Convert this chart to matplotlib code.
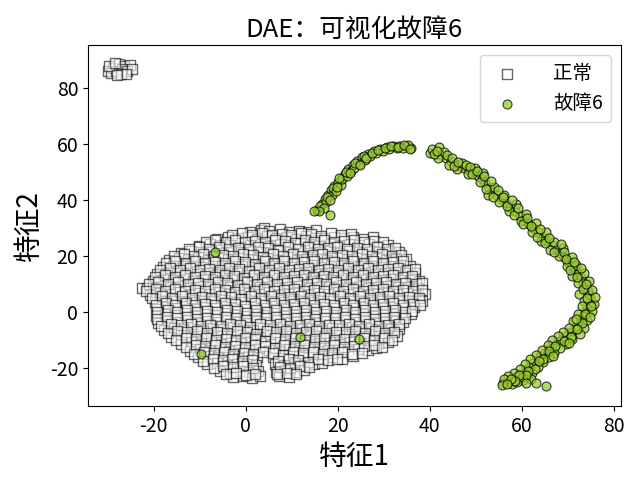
import matplotlib
matplotlib.use("Agg")
import matplotlib.pyplot as plt

plt.rcParams['font.family'] = ['Noto Sans CJK SC', 'DejaVu Sans']
plt.rcParams['axes.unicode_minus'] = False

# 正常 样本 (按行读取)
normal_x = [
    1.0, 3.2, 4.0, 5.1, 7.4, 9.3, 11.6, 13.5, 15.2,
    -6.2, -3.9, -1.8, 0.4, 2.5, 4.7, 6.6, 8.9, 10.8, 13.1, 15.0, 17.2, 19.1, 21.4, 23.3, 25.5, 27.6,
    -10.1, -7.8, -5.7, -3.5, -1.2, 0.9, 3.1, 5.3, 7.4, 9.6, 11.7, 13.9, 16.0, 18.2, 20.4, 22.5, 24.6, 26.8, 28.9, 31.0,
    -14.0, -11.9, -9.7, -7.6, -5.4, -3.3, -1.1, 1.0, 3.2, 5.3, 7.5, 9.6, 11.8, 13.9, 16.1, 18.2, 20.4, 22.5, 24.7, 26.8, 29.0, 31.1, 33.3,
    -16.8, -14.6, -12.5, -10.3, -8.2, -6.0, -3.9, -1.7, 0.4, 2.6, 4.7, 6.9, 9.0, 11.2, 13.3, 15.5, 17.6, 19.8, 21.9, 24.1, 26.2, 28.4, 30.5, 32.7, 34.8,
    -18.0, -15.8, -13.7, -11.5, -9.4, -7.2, -5.1, -2.9, -0.8, 1.4, 3.5, 5.7, 7.8, 10.0, 12.1, 14.3, 16.4, 18.6, 20.7, 22.9, 25.0, 27.2, 29.3, 31.5, 33.6, 35.7,
    -19.2, -17.0, -14.9, -12.7, -10.6, -8.4, -6.3, -4.1, -2.0, 0.2, 2.3, 4.5, 6.6, 8.8, 10.9, 13.1, 15.2, 17.4, 19.5, 21.7, 23.8, 26.0, 28.1, 30.3, 32.4, 34.6, 36.7,
    -20.1, -18.0, -15.8, -13.7, -11.5, -9.4, -7.2, -5.1, -2.9, -0.8, 1.4, 3.5, 5.7, 7.8, 10.0, 12.1, 14.3, 16.4, 18.6, 20.7, 22.9, 25.0, 27.2, 29.3, 31.5, 33.6, 35.8, 37.6,
    -22.6, -21.4, -20.2, -18.5, -16.4, -14.2, -12.1, -9.9, -7.8, -5.6, -3.5, -1.3, 0.8, 3.0, 5.1, 7.3, 9.4, 11.6, 13.7, 15.9, 18.0, 20.2, 22.3, 24.5, 26.6, 28.8, 30.9, 33.1, 35.2, 37.4,
    -20.8, -18.7, -16.5, -14.4, -12.2, -10.1, -7.9, -5.8, -3.6, -1.5, 0.7, 2.8, 5.0, 7.1, 9.3, 11.4, 13.6, 15.7, 17.9, 20.0, 22.2, 24.3, 26.5, 28.6, 30.8, 32.9, 35.1, 37.2, 39.0,
    -19.8, -17.6, -15.5, -13.3, -11.2, -9.0, -6.9, -4.7, -2.6, -0.4, 1.7, 3.9, 6.0, 8.2, 10.3, 12.5, 14.6, 16.8, 18.9, 21.1, 23.2, 25.4, 27.5, 29.7, 31.8, 34.0, 36.1, 38.3,
    -19.4, -17.2, -15.1, -12.9, -10.8, -8.6, -6.5, -4.3, -2.2, 0.0, 2.1, 4.3, 6.4, 8.6, 10.7, 12.9, 15.0, 17.2, 19.3, 21.5, 23.6, 25.8, 27.9, 30.1, 32.2, 34.4, 36.5,
    -19.6, -17.5, -15.3, -13.2, -11.0, -8.9, -6.7, -4.6, -2.4, -0.3, 1.9, 4.0, 6.2, 8.3, 10.5, 12.6, 14.8, 16.9, 19.1, 21.2, 23.4, 25.5, 27.7, 29.8, 32.0, 34.1, 35.8,
    -19.0, -16.9, -14.7, -12.6, -10.4, -8.3, -6.1, -4.0, -1.8, 0.3, 2.5, 4.6, 6.8, 8.9, 11.1, 13.2, 15.4, 17.5, 19.7, 21.8, 24.0, 26.1, 28.3, 30.4, 32.6, 34.2,
    -17.8, -15.7, -13.5, -11.4, -9.2, -7.1, -4.9, -2.8, -0.6, 1.5, 3.7, 5.8, 8.0, 10.1, 12.3, 14.4, 16.6, 18.7, 20.9, 23.0, 25.2, 27.3, 29.5, 31.6, 33.4,
    -16.2, -14.1, -11.9, -9.8, -7.6, -5.5, -3.3, -1.2, 1.0, 3.1, 5.3, 7.4, 9.6, 11.7, 13.9, 16.0, 18.2, 20.3, 22.5, 24.6, 26.8, 28.9, 31.1, 32.8,
    -14.0, -11.8, -9.7, -7.5, -5.4, -3.2, -1.1, 1.1, 3.2, 5.4, 7.5, 9.7, 11.8, 14.0, 16.1, 18.3, 20.4, 22.6, 24.7, 26.9, 29.0, 30.9,
    -12.2, -10.0, -7.9, -5.7, -3.6, -1.4, 0.7, 2.9, 5.0, 7.2, 9.3, 11.5, 13.6, 15.8, 17.9, 20.1, 22.2, 24.4, 26.5, 28.3,
    -10.3, -8.2, -6.0, -3.9, -1.7, 0.4, 2.4, 6.0, 8.1, 10.3, 12.4, 14.6, 16.7, 18.9, 21.0, 23.2,
    -8.4, -6.3, -4.1, -2.0, 0.2, 2.2, 6.3, 8.4, 10.6, 12.7, 14.9, 16.5,
    -5.6, -3.4, -1.3, 0.8, 2.6, 6.5, 8.6, 10.8, 12.6,
    -2.8, -0.7, 1.4, 3.0, 7.2, 9.3,
    # 中间行
    -2.9, -0.8, 1.3, 3.5, 5.6, 7.8, 9.9, 12.0, 14.2, 16.3, 18.5, 20.6, 22.8,
    -8.7, -6.6, -4.4, -2.3, -0.1, 2.0, 4.2, 6.3, 8.5, 10.6, 12.8, 14.9, 17.1, 19.2, 21.4, 23.5, 25.7, 27.8, 29.9,
    -12.3, -10.2, -8.0, -5.9, -3.7, -1.6, 0.6, 2.7, 4.9, 7.0, 9.2, 11.3, 13.5, 15.6, 17.8, 19.9, 22.1, 24.2, 26.4, 28.5, 30.7, 32.4,
    -15.6, -13.5, -11.3, -9.2, -7.0, -4.9, -2.7, -0.6, 1.6, 3.7, 5.9, 8.0, 10.2, 12.3, 14.5, 16.6, 18.8, 20.9, 23.1, 25.2, 27.4, 29.5, 31.7, 33.8,
    -17.4, -15.3, -13.1, -11.0, -8.8, -6.7, -4.5, -2.4, -0.2, 1.9, 4.1, 6.2, 8.4, 10.5, 12.7, 14.8, 17.0, 19.1, 21.3, 23.4, 25.6, 27.7, 29.9, 32.0, 34.2,
    -18.6, -16.5, -14.3, -12.2, -10.0, -7.9, -5.7, -3.6, -1.4, 0.7, 2.9, 5.0, 7.2, 9.3, 11.5, 13.6, 15.8, 17.9, 20.1, 22.2, 24.4, 26.5, 28.7, 30.8, 33.0, 35.1, 36.8,
    -19.7, -17.5, -15.4, -13.2, -11.1, -8.9, -6.8, -4.6, -2.5, -0.3, 1.8, 4.0, 6.1, 8.3, 10.4, 12.6, 14.7, 16.9, 19.0, 21.2, 23.3, 25.5, 27.6, 29.8, 31.9, 34.1, 36.2,
    -21.0, -19.0, -16.9, -14.7, -12.6, -10.4, -8.3, -6.1, -4.0, -1.8, 0.3, 2.5, 4.6, 6.8, 8.9, 11.1, 13.2, 15.4, 17.5, 19.7, 21.8, 24.0, 26.1, 28.3, 30.4, 32.6, 34.7, 36.9, 38.2,
    -21.8, -19.6, -17.5, -15.3, -13.2, -11.0, -8.9, -6.7, -4.6, -2.4, -0.3, 1.9, 4.0, 6.2, 8.3, 10.5, 12.6, 14.8, 16.9, 19.1, 21.2, 23.4, 25.5, 27.7, 29.8, 32.0, 34.1, 36.3, 38.4,
    -20.4, -18.2, -16.1, -13.9, -11.8, -9.6, -7.5, -5.3, -3.2, -1.0, 1.1, 3.3, 5.4, 7.6, 9.7, 11.9, 14.0, 16.2, 18.3, 20.5, 22.6, 24.8, 26.9, 29.1, 31.2, 33.4, 35.5, 37.7,
    -19.6, -17.4, -15.3, -13.1, -11.0, -8.8, -6.7, -4.5, -2.4, -0.2, 1.9, 4.1, 6.2, 8.4, 10.5, 12.7, 14.8, 17.0, 19.1, 21.3, 23.4, 25.6, 27.7, 29.9, 32.0, 34.2, 36.3, 37.9,
    -19.2, -17.0, -14.9, -12.7, -10.6, -8.4, -6.3, -4.1, -2.0, 0.2, 2.3, 4.5, 6.6, 8.8, 10.9, 13.1, 15.2, 17.4, 19.5, 21.7, 23.8, 26.0, 28.1, 30.3, 32.4, 34.6, 36.2,
    -19.3, -17.1, -15.0, -12.8, -10.7, -8.5, -6.4, -4.2, -2.1, 0.1, 2.2, 4.4, 6.5, 8.7, 10.8, 13.0, 15.1, 17.3, 19.4, 21.6, 23.7, 25.9, 28.0, 30.2, 32.3, 34.5,
    -18.4, -16.3, -14.1, -12.0, -9.8, -7.7, -5.5, -3.4, -1.2, 0.9, 3.1, 5.2, 7.4, 9.5, 11.7, 13.8, 16.0, 18.1, 20.3, 22.4, 24.6, 26.7, 28.9, 31.0, 33.2,
    -17.0, -14.9, -12.7, -10.6, -8.4, -6.3, -4.1, -2.0, 0.2, 2.3, 4.5, 6.6, 8.8, 10.9, 13.1, 15.2, 17.4, 19.5, 21.7, 23.8, 26.0, 28.1, 30.3, 32.3,
    -15.1, -13.0, -10.8, -8.7, -6.5, -4.4, -2.2, -0.1, 2.1, 4.2, 6.4, 8.5, 10.7, 12.8, 15.0, 17.1, 19.3, 21.4, 23.6, 25.7, 27.9, 30.0, 31.8,
    -13.1, -10.9, -8.8, -6.6, -4.5, -2.3, -0.2, 2.0, 4.1, 6.3, 8.4, 10.6, 12.7, 14.9, 17.0, 19.2, 21.3, 23.5, 25.6, 27.8, 29.6,
    -11.3, -9.1, -7.0, -4.8, -2.7, -0.5, 1.6, 3.8, 5.9, 8.1, 10.2, 12.4, 14.5, 16.7, 18.8, 21.0, 23.1, 25.3,
    -9.3, -7.2, -5.0, -2.9, -0.7, 1.4, 7.1, 9.3, 11.4, 13.6, 15.7, 17.9, 19.8,
    -7.0, -4.9, -2.7, -0.6, 1.6, 7.4, 9.5, 11.7, 13.8,
    -4.3, -2.1, 0.0, 2.1, 6.8, 8.9, 11.0,
    # 左上角小簇
    -30.0, -28.8, -27.6, -26.4, -25.2, -29.4, -28.2, -27.0, -25.8, -24.8, -29.8, -28.4, -27.2, -26.0, -28.0,
]
normal_y = [
    28.6, 29.4, 30.2, 28.9, 29.8, 28.5, 29.1, 28.7, 29.3,
    26.1, 27.0, 26.4, 26.9, 26.0, 27.2, 26.5, 26.8, 26.2, 27.1, 26.6, 26.3, 27.0, 26.5, 26.9, 26.2, 26.7,
    23.6, 24.3, 23.9, 24.6, 23.4, 24.1, 24.5, 23.7, 24.2, 23.8, 24.7, 23.5, 24.0, 24.4, 23.6, 24.2, 23.9, 24.5, 23.7, 24.0,
    21.2, 21.9, 21.4, 22.0, 21.1, 21.7, 21.3, 22.1, 21.5, 21.0, 21.8, 21.4, 22.0, 21.2, 21.6, 21.9, 21.1, 21.7, 21.4, 22.0, 21.3, 21.8, 21.5,
    18.7, 19.4, 18.9, 19.5, 18.6, 19.2, 18.8, 19.6, 19.0, 18.5, 19.3, 18.9, 19.5, 18.7, 19.1, 19.4, 18.6, 19.2, 18.9, 19.6, 18.8, 19.3, 18.7, 19.1, 18.9,
    16.2, 16.9, 16.4, 17.0, 16.1, 16.7, 16.3, 17.1, 16.5, 16.0, 16.8, 16.4, 17.0, 16.2, 16.6, 16.9, 16.1, 16.7, 16.4, 17.1, 16.3, 16.8, 16.2, 16.6, 16.9, 16.4,
    13.6, 14.3, 13.8, 14.4, 13.5, 14.1, 13.7, 14.5, 13.9, 13.4, 14.2, 13.8, 14.4, 13.6, 14.0, 14.3, 13.5, 14.1, 13.8, 14.5, 13.7, 14.2, 13.6, 14.0, 14.3, 13.8, 14.1,
    11.2, 11.8, 11.4, 12.0, 11.1, 11.7, 11.3, 12.1, 11.5, 11.0, 11.8, 11.4, 12.0, 11.2, 11.6, 11.9, 11.1, 11.7, 11.4, 12.1, 11.3, 11.8, 11.2, 11.6, 11.9, 11.4, 11.7, 11.2,
    8.7, 8.7, 8.7, 9.3, 8.8, 9.4, 8.6, 9.2, 8.8, 9.5, 8.9, 8.4, 9.2, 8.8, 9.4, 8.6, 9.0, 9.3, 8.5, 9.1, 8.8, 9.5, 8.7, 9.2, 8.6, 9.0, 9.3, 8.8, 9.1, 8.6,
    6.2, 6.9, 6.4, 7.0, 6.1, 6.7, 6.3, 7.1, 6.5, 6.0, 6.8, 6.4, 7.0, 6.2, 6.6, 6.9, 6.1, 6.7, 6.4, 7.1, 6.3, 6.8, 6.2, 6.6, 6.9, 6.4, 6.7, 6.2, 6.5,
    3.7, 4.4, 3.9, 4.5, 3.6, 4.2, 3.8, 4.6, 4.0, 3.5, 4.3, 3.9, 4.5, 3.7, 4.1, 4.4, 3.6, 4.2, 3.9, 4.6, 3.8, 4.3, 3.7, 4.1, 4.4, 3.9, 4.2, 3.8,
    1.2, 1.9, 1.4, 2.0, 1.1, 1.7, 1.3, 2.1, 1.5, 1.0, 1.8, 1.4, 2.0, 1.2, 1.6, 1.9, 1.1, 1.7, 1.4, 2.1, 1.3, 1.8, 1.2, 1.6, 1.9, 1.4, 1.7,
    -1.3, -0.6, -1.1, -0.5, -1.4, -0.8, -1.2, -0.4, -1.0, -1.5, -0.7, -1.1, -0.5, -1.3, -0.9, -0.6, -1.4, -0.8, -1.1, -0.4, -1.2, -0.7, -1.3, -0.9, -0.6, -1.1, -0.8,
    -3.8, -3.1, -3.6, -3.0, -3.9, -3.3, -3.7, -2.9, -3.5, -4.0, -3.2, -3.6, -3.0, -3.8, -3.4, -3.1, -3.9, -3.3, -3.6, -2.9, -3.7, -3.2, -3.8, -3.4, -3.1, -3.6,
    -6.3, -5.6, -6.1, -5.5, -6.4, -5.8, -6.2, -5.4, -6.0, -6.5, -5.7, -6.1, -5.5, -6.3, -5.9, -5.6, -6.4, -5.8, -6.1, -5.4, -6.2, -5.7, -6.3, -5.9, -6.0,
    -8.8, -8.1, -8.6, -8.0, -8.9, -8.3, -8.7, -7.9, -8.5, -9.0, -8.2, -8.6, -8.0, -8.8, -8.4, -8.1, -8.9, -8.3, -8.6, -7.9, -8.7, -8.2, -8.8, -8.4,
    -11.3, -10.6, -11.1, -10.5, -11.4, -10.8, -11.2, -10.4, -11.0, -11.5, -10.7, -11.1, -10.5, -11.3, -10.9, -10.6, -11.4, -10.8, -11.1, -10.4, -11.2, -10.7,
    -13.8, -13.1, -13.6, -13.0, -13.9, -13.3, -13.7, -12.9, -13.5, -14.0, -13.2, -13.6, -13.0, -13.8, -13.4, -13.1, -13.9, -13.3, -13.6, -13.0,
    -16.2, -15.6, -16.1, -15.5, -16.4, -15.8, -16.2, -15.9, -16.5, -15.7, -16.1, -15.5, -16.3, -15.9, -16.6, -15.8,
    -18.7, -18.1, -18.9, -18.3, -18.6, -19.0, -18.4, -18.8, -18.2, -18.9, -18.5, -18.1,
    -21.1, -21.6, -20.9, -21.4, -21.0, -21.5, -20.8, -21.3, -20.7,
    -23.2, -22.8, -23.5, -23.0, -22.9, -23.3,
    27.5, 28.1, 27.7, 28.3, 27.4, 28.0, 27.6, 28.2, 27.8, 27.3, 28.1, 27.6, 27.9,
    25.0, 25.6, 25.2, 25.8, 24.9, 25.5, 25.1, 25.7, 25.3, 24.8, 25.6, 25.2, 25.8, 25.0, 25.4, 25.7, 24.9, 25.5, 25.2,
    22.5, 23.1, 22.7, 23.3, 22.4, 23.0, 22.6, 23.2, 22.8, 22.3, 23.1, 22.7, 23.3, 22.5, 22.9, 23.2, 22.4, 23.0, 22.7, 23.3, 22.6, 22.9,
    20.0, 20.6, 20.2, 20.8, 19.9, 20.5, 20.1, 20.7, 20.3, 19.8, 20.6, 20.2, 20.8, 20.0, 20.4, 20.7, 19.9, 20.5, 20.2, 20.8, 20.1, 20.6, 20.0, 20.4,
    17.5, 18.1, 17.7, 18.3, 17.4, 18.0, 17.6, 18.2, 17.8, 17.3, 18.1, 17.7, 18.3, 17.5, 17.9, 18.2, 17.4, 18.0, 17.7, 18.3, 17.6, 18.1, 17.5, 17.9, 18.2,
    15.0, 15.6, 15.2, 15.8, 14.9, 15.5, 15.1, 15.7, 15.3, 14.8, 15.6, 15.2, 15.8, 15.0, 15.4, 15.7, 14.9, 15.5, 15.2, 15.8, 15.1, 15.6, 15.0, 15.4, 15.7, 15.2, 15.5,
    12.5, 13.1, 12.7, 13.3, 12.4, 13.0, 12.6, 13.2, 12.8, 12.3, 13.1, 12.7, 13.3, 12.5, 12.9, 13.2, 12.4, 13.0, 12.7, 13.3, 12.6, 13.1, 12.5, 12.9, 13.2, 12.7, 13.0,
    10.0, 10.6, 10.2, 10.8, 9.9, 10.5, 10.1, 10.7, 10.3, 9.8, 10.6, 10.2, 10.8, 10.0, 10.4, 10.7, 9.9, 10.5, 10.2, 10.8, 10.1, 10.6, 10.0, 10.4, 10.7, 10.2, 10.5, 10.0, 10.3,
    7.5, 8.1, 7.7, 8.3, 7.4, 8.0, 7.6, 8.2, 7.8, 7.3, 8.1, 7.7, 8.3, 7.5, 7.9, 8.2, 7.4, 8.0, 7.7, 8.3, 7.6, 8.1, 7.5, 7.9, 8.2, 7.7, 8.0, 7.5, 7.8,
    5.0, 5.6, 5.2, 5.8, 4.9, 5.5, 5.1, 5.7, 5.3, 4.8, 5.6, 5.2, 5.8, 5.0, 5.4, 5.7, 4.9, 5.5, 5.2, 5.8, 5.1, 5.6, 5.0, 5.4, 5.7, 5.2, 5.5, 5.0,
    2.5, 3.1, 2.7, 3.3, 2.4, 3.0, 2.6, 3.2, 2.8, 2.3, 3.1, 2.7, 3.3, 2.5, 2.9, 3.2, 2.4, 3.0, 2.7, 3.3, 2.6, 3.1, 2.5, 2.9, 3.2, 2.7, 3.0, 2.6,
    0.0, 0.6, 0.2, 0.8, -0.1, 0.5, 0.1, 0.7, 0.3, -0.2, 0.6, 0.2, 0.8, 0.0, 0.4, 0.7, -0.1, 0.5, 0.2, 0.8, 0.1, 0.6, 0.0, 0.4, 0.7, 0.2, 0.5,
    -2.5, -1.9, -2.3, -1.7, -2.6, -2.0, -2.4, -1.8, -2.2, -2.7, -1.9, -2.3, -1.7, -2.5, -2.1, -1.8, -2.6, -2.0, -2.3, -1.7, -2.4, -1.9, -2.5, -2.1, -1.8, -2.3,
    -5.0, -4.4, -4.8, -4.2, -5.1, -4.5, -4.9, -4.3, -4.7, -5.2, -4.4, -4.8, -4.2, -5.0, -4.6, -4.3, -5.1, -4.5, -4.8, -4.2, -4.9, -4.4, -5.0, -4.6, -4.3,
    -7.5, -6.9, -7.3, -6.7, -7.6, -7.0, -7.4, -6.8, -7.2, -7.7, -6.9, -7.3, -6.7, -7.5, -7.1, -6.8, -7.6, -7.0, -7.3, -6.7, -7.4, -6.9, -7.5, -7.1,
    -10.0, -9.4, -9.8, -9.2, -10.1, -9.5, -9.9, -9.3, -9.7, -10.2, -9.4, -9.8, -9.2, -10.0, -9.6, -9.3, -10.1, -9.5, -9.8, -9.2, -9.9, -9.4, -10.0,
    -12.5, -11.9, -12.3, -11.7, -12.6, -12.0, -12.4, -11.8, -12.2, -12.7, -11.9, -12.3, -11.7, -12.5, -12.1, -11.8, -12.6, -12.0, -12.3, -11.7, -12.4,
    -15.0, -14.4, -14.8, -14.2, -15.1, -14.5, -14.9, -14.3, -14.7, -15.2, -14.4, -14.8, -14.2, -15.0, -14.6, -14.3, -15.1, -14.5,
    -17.5, -16.9, -17.3, -16.7, -17.6, -17.0, -17.4, -16.8, -17.2, -17.7, -16.9, -17.3, -16.7,
    -20.0, -19.4, -19.8, -19.2, -20.1, -19.5, -19.9, -19.3, -19.7,
    -22.2, -21.8, -22.4, -22.0, -22.3, -21.7, -22.1,
    86.3, 87.4, 88.5, 87.8, 88.2, 85.4, 86.0, 86.7, 86.2, 87.0, 87.9, 88.9, 85.2, 85.0, 84.8,
]

# 故障6 样本
fault_x = [
    # 左侧弧
    15.5, 16.5, 17.2, 17.8, 18.5, 19.2, 20.0, 20.8, 21.5, 22.3, 23.2, 24.2, 25.3, 26.5, 27.8, 29.2, 30.6, 32.0, 33.4, 34.8, 36.0,
    16.2, 17.5, 18.8, 19.0, 20.6, 21.0, 22.0, 22.8, 23.6, 24.6, 25.8, 27.0, 28.4, 29.8, 31.2, 32.8, 34.2, 35.3, 17.0, 19.6,
    16.0, 17.6, 18.2, 19.8, 20.2, 21.8, 22.6, 23.8, 24.8, 25.6, 26.2, 27.4, 28.8, 30.2, 31.6, 33.0, 34.4, 35.6,
    18.3, 14.8,
    # 右侧弧
    40.0, 41.2, 42.5, 43.5, 44.5, 45.5, 46.5, 47.5, 48.5, 49.5, 50.5, 51.3, 52.0, 52.8, 53.5, 54.5, 55.5, 56.5, 57.5, 58.5,
    59.5, 60.5, 61.5, 62.5, 63.5, 64.5, 65.5, 66.5, 67.5, 68.3, 69.2, 70.0, 70.8, 71.5, 72.2, 72.8, 73.3, 73.8, 74.3, 74.6,
    74.8, 74.6, 74.2, 73.8, 73.3, 72.8, 72.2, 71.5, 70.7, 69.8, 68.8, 67.8, 66.9, 66.0, 65.0, 64.0, 63.2, 62.4, 61.6, 60.8,
    60.0, 59.0, 58.0, 57.0, 56.0,
    40.5, 42.0, 41.8, 43.0, 44.2, 45.8, 47.0, 48.2, 49.8, 51.5, 50.8, 52.6, 54.0, 55.0, 56.2, 57.2, 58.8, 59.8, 61.0, 62.2,
    63.0, 64.2, 65.2, 66.2, 67.0, 68.0, 69.0, 69.8, 70.8, 71.8, 71.0, 72.3, 73.6, 74.5, 72.5, 75.3, 73.5, 75.6, 73.0, 75.2,
    72.2, 74.2, 71.2, 73.6, 70.2, 72.6, 69.0, 71.0, 67.8, 69.6, 66.6, 68.2, 65.6, 67.0, 64.4, 65.8, 63.0, 64.6, 61.8, 63.4,
    60.6, 62.2, 59.6, 61.2, 58.2, 60.2, 57.0, 59.0, 56.2, 57.8, 55.6, 58.2, 60.2, 62.0, 63.0,
    40.8, 41.6, 43.8, 44.8, 45.2, 46.2, 47.8, 48.8, 49.2, 50.2, 51.8, 52.2, 53.2, 53.8, 54.8, 55.8, 56.8, 57.8, 58.2, 59.2,
    60.2, 61.2, 62.0, 63.2, 64.0, 65.0, 66.0, 67.0, 68.6, 69.2, 69.6, 70.4, 71.4, 72.0, 72.8, 73.2, 74.0, 74.2, 75.8, 75.0,
    73.8, 74.8, 73.0, 72.0, 71.8, 70.6, 69.2, 70.2, 67.2, 66.0, 66.8, 64.6, 63.8, 62.8, 61.4, 60.8, 59.4, 58.6, 57.6, 56.8,
    61.0,
    65.2,
    # 混入正常簇的点
    -6.7, -9.8, 11.7, 24.6,
]
fault_y = [
    36.5, 38.5, 40.5, 42.0, 43.5, 45.0, 46.5, 48.0, 49.5, 51.0, 52.5, 54.0, 55.3, 56.5, 57.5, 58.3, 58.9, 59.2, 59.3, 59.2, 58.8,
    37.8, 39.5, 41.8, 44.2, 45.4, 47.6, 48.5, 50.3, 51.4, 53.0, 54.4, 55.6, 56.9, 57.6, 58.2, 58.6, 58.6, 59.6, 37.3, 43.4,
    36.0, 41.2, 40.0, 44.8, 47.8, 50.2, 49.6, 53.4, 52.6, 55.9, 55.0, 57.0, 57.9, 58.6, 59.4, 59.0, 59.6, 58.4,
    34.6, 36.0,
    57.0, 56.5, 56.0, 55.0, 54.0, 53.0, 52.3, 51.5, 50.8, 50.0, 48.8, 47.5, 46.0, 44.5, 43.0, 41.8, 40.5, 39.0, 37.5, 36.0,
    34.5, 33.0, 31.5, 30.0, 28.5, 27.0, 25.5, 24.0, 22.5, 21.0, 19.5, 18.0, 16.5, 15.0, 13.5, 12.0, 10.5, 9.0, 7.5, 6.0,
    4.5, 3.0, 1.5, 0.0, -1.5, -3.0, -4.5, -6.0, -7.2, -8.3, -9.5, -10.7, -12.0, -13.3, -14.5, -15.7, -17.0, -18.3, -19.6, -20.8,
    -22.0, -23.0, -23.8, -24.5, -25.2,
    58.2, 59.0, 55.0, 57.3, 52.5, 51.0, 53.2, 49.5, 51.6, 49.8, 46.5, 42.0, 44.8, 39.5, 42.0, 36.0, 38.6, 32.5, 35.0, 28.6,
    31.8, 25.5, 28.5, 22.3, 25.2, 20.0, 23.0, 16.5, 19.8, 16.8, 13.0, 10.5, 13.8, 11.0, 6.5, 8.0, 4.0, 3.0, 2.0, 0.3,
    -0.8, -2.8, -3.2, -5.6, -5.8, -7.8, -7.0, -9.6, -8.6, -11.4, -10.0, -13.0, -11.8, -14.6, -13.4, -16.2, -15.2, -18.0, -16.8, -19.8,
    -18.6, -21.6, -20.5, -23.0, -21.8, -24.4, -23.0, -25.0, -23.8, -25.8, -26.0, -24.8, -23.2, -24.0, -25.4,
    56.4, 57.6, 56.2, 55.2, 52.2, 53.8, 52.4, 52.0, 49.2, 50.4, 48.5, 44.0, 46.8, 41.0, 43.8, 41.2, 37.8, 40.0, 34.8, 37.2,
    31.6, 33.6, 30.8, 27.0, 29.6, 24.8, 26.6, 21.6, 24.4, 21.4, 18.8, 15.2, 17.8, 12.4, 15.6, 8.2, 10.2, 5.0, 5.4, 2.0,
    -0.8, -1.6, -4.0, -6.0, -2.4, -8.8, -10.2, -11.0, -12.2, -14.0, -15.6, -16.6, -17.4, -20.2, -21.0, -22.4, -22.4, -24.6, -24.0, -25.8,
    -25.2,
    -26.6,
    21.4, -15.0, -8.9, -9.6,
]

fig, ax = plt.subplots(figsize=(6.4, 4.8), dpi=100)
ax.scatter(normal_x, normal_y, marker='s', s=50, c='white', edgecolors='black',
           linewidths=1.0, alpha=0.6, label='正常')
ax.scatter(fault_x, fault_y, marker='o', s=42, c='yellowgreen', edgecolors='black',
           linewidths=0.8, alpha=0.75, label='故障6')

ax.set_xlim(-34.3, 81.5)
ax.set_ylim(-33.6, 95.4)
ax.set_xticks([-20, 0, 20, 40, 60, 80])
ax.set_yticks([-20, 0, 20, 40, 60, 80])
ax.tick_params(labelsize=14)
ax.set_title('DAE：可视化故障6', fontsize=18.5)
ax.set_xlabel('特征1', fontsize=20)
ax.set_ylabel('特征2', fontsize=20)
ax.legend(loc='upper right', fontsize=14, handletextpad=1.4)

plt.subplots_adjust(left=0.1375, right=0.970, top=0.906, bottom=0.154)
plt.savefig('out.png')
